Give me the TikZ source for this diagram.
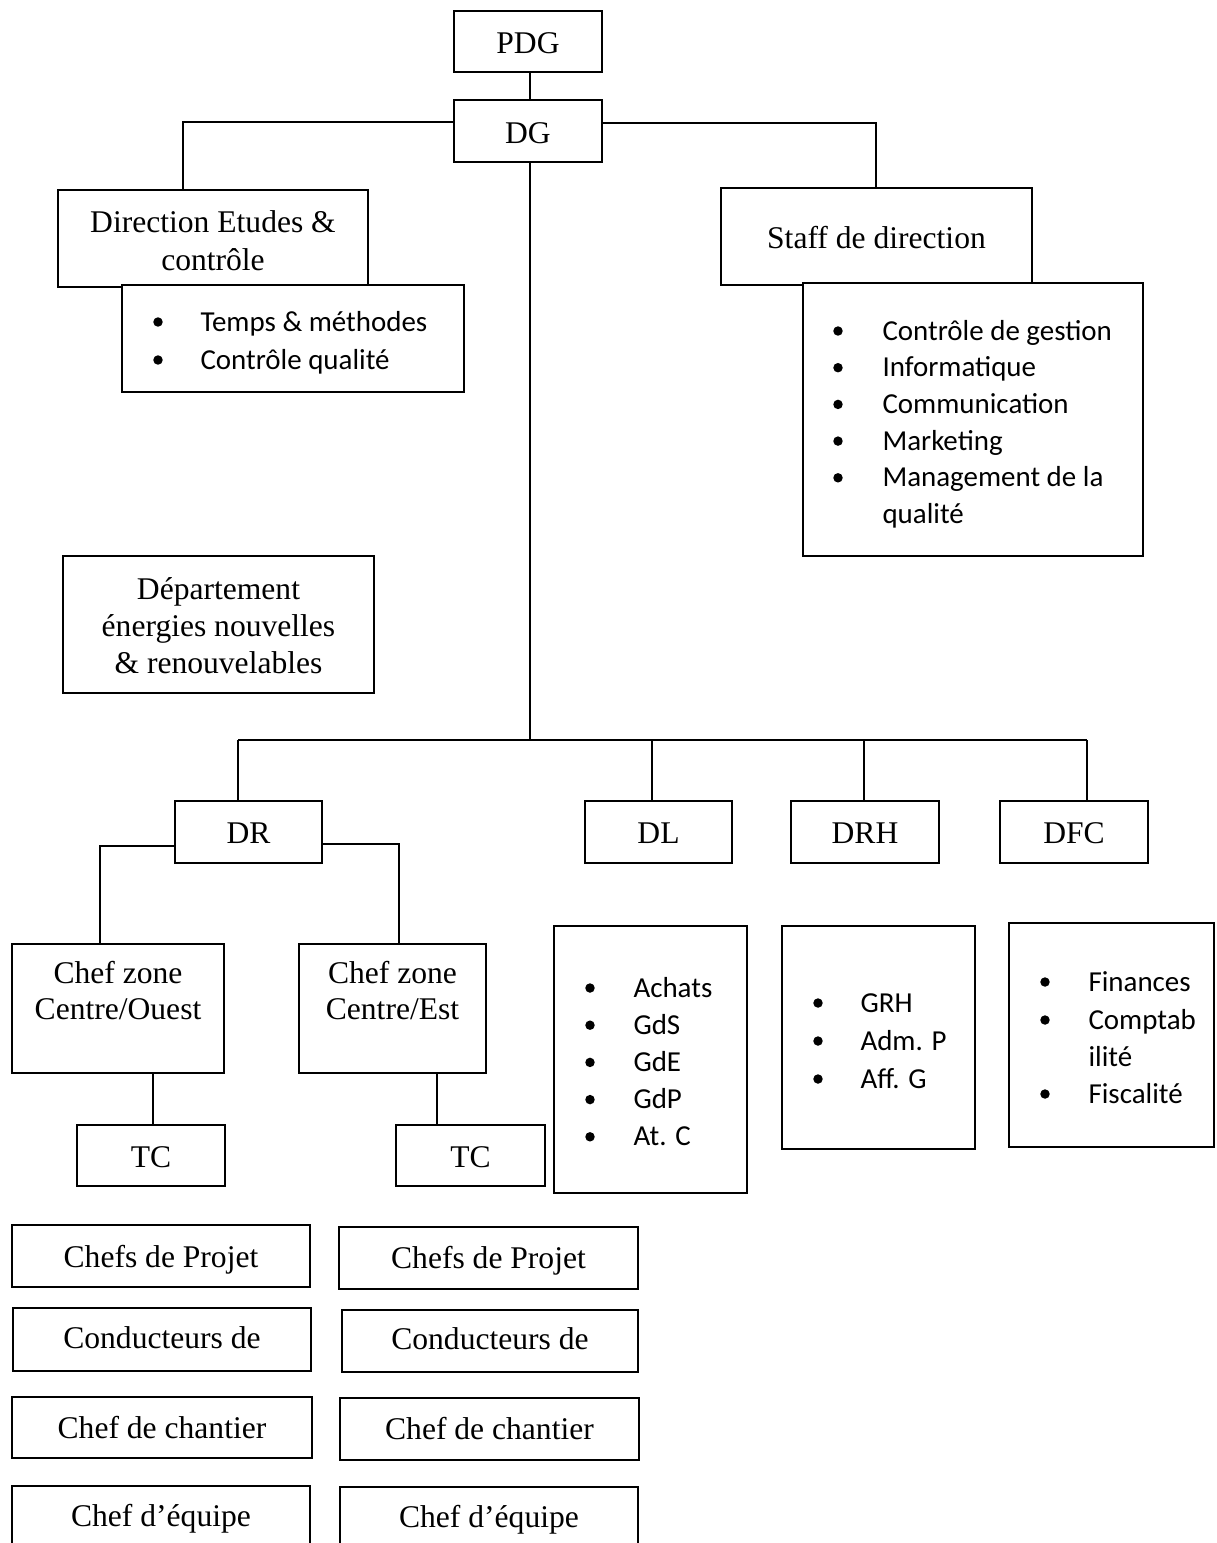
\documentclass[tikz,border=0pt]{standalone}
\usepackage{fontspec}
\setmainfont{Liberation Serif}
\newfontfamily\calfont{Carlito}
\newcommand\bx[5]{\node[box, minimum width={(#4-#2)*0.38pt}, minimum height={(#5-#3)*0.38pt}] (#1) at ({(#2+#4)/2},{(#3+#5)/2}) {};}
\newcommand\ttline[4]{\node[ttl] (#1) at (#2,#3) {#4};}
\newcommand\itline[4]{\node[itm] (#1) at (#2,#3) {#4};}
\newcommand\bul[2]{\fill (#1,#2) circle (1.8pt);}
\begin{document}
\begin{tikzpicture}[x=0.38pt,y=-0.38pt,
  box/.style={draw, line width=0.95pt, fill=white, inner sep=0pt, rectangle},
  conn/.style={line width=0.5pt},
  ttl/.style={font=\fontsize{12}{14}\selectfont, inner sep=0pt, anchor=base},
  itm/.style={font=\calfont\fontsize{11}{14}\selectfont, inner sep=0pt, anchor=base west}]
\useasboundingbox (0,0) rectangle (1217,1543);
\clip (0,0) rectangle (1217,1543);

% ---------- boxes ----------
\bx{PDG}{454}{11}{602}{72}
\bx{DG}{454}{100}{602}{162}
\bx{DirE}{58}{190}{368}{287}
\bx{DirL}{122}{285}{464}{392}
\bx{Staff}{721}{188}{1032}{285}
\bx{StaffL}{803}{283}{1143}{556}
\bx{Dep}{63}{556}{374}{693}
\bx{DR}{175}{801}{322}{863}
\bx{DL}{585}{801}{732}{863}
\bx{DRH}{791}{801}{939}{863}
\bx{DFC}{1000}{801}{1148}{863}
\bx{CZO}{12}{944}{224}{1073}
\bx{CZE}{299}{944}{486}{1073}
\bx{TCO}{77}{1125}{225}{1186}
\bx{TCE}{396}{1125}{545}{1186}
\bx{DLL}{554}{926}{747}{1193}
\bx{DRHL}{782}{926}{975}{1149}
\bx{DFCL}{1009}{923}{1214}{1147}
\bx{CPa}{12}{1225}{310}{1287}
\bx{COa}{13}{1308}{311}{1371}
\bx{CCa}{12}{1397}{312}{1458}
\bx{CEa}{12}{1486}{310}{1570}
\bx{CPb}{339}{1227}{638}{1289}
\bx{COb}{342}{1310}{638}{1372}
\bx{CCb}{340}{1398}{639}{1460}
\bx{CEb}{340}{1487}{638}{1570}

% ---------- connector helper points ----------
\coordinate (kL) at (183,122);
\coordinate (kR) at (876,123);
\coordinate (bar) at (530,740);
\coordinate (d1) at (238,740);
\coordinate (d2) at (652,740);
\coordinate (d3) at (864,740);
\coordinate (d4) at (1087,740);
\coordinate (zL) at (100,846);
\coordinate (zR) at (399,844);
\coordinate (tL) at (153,1100);
\coordinate (tR) at (437,1100);

% ---------- connectors ----------
\draw[conn] (PDG.south -| bar) -- (DG.north -| bar);
\draw[conn] (DG.west |- kL) -| (DirE.north -| kL);
\draw[conn] (DG.east |- kR) -| (Staff.north -| kR);
\draw[conn] (DG.south -| bar) -- (bar);
\draw[conn] (d1) -- (d4);
\draw[conn] (d1) -- (DR.north -| d1);
\draw[conn] (d2) -- (DL.north -| d2);
\draw[conn] (d3) -- (DRH.north -| d3);
\draw[conn] (d4) -- (DFC.north -| d4);
\draw[conn] (DR.west |- zL) -| (CZO.north -| zL);
\draw[conn] (DR.east |- zR) -| (CZE.north -| zR);
\draw[conn] (CZO.south -| tL) -- (TCO.north -| tL);
\draw[conn] (CZE.south -| tR) -- (TCE.north -| tR);

% ---------- titles ----------
\ttline{tPDG}{528}{53.5}{PDG}
\ttline{tDG}{528}{143.5}{DG}
\ttline{tDirE1}{213}{232.5}{Direction Etudes \&}
\ttline{tDirE2}{213}{270}{contrôle}
\ttline{tStaff}{876.5}{248.5}{Staff de direction}
\ttline{tDep1}{218.5}{599}{Département}
\ttline{tDep2}{218.5}{636}{énergies nouvelles}
\ttline{tDep3}{218.5}{673}{\& renouvelables}
\ttline{tDR}{248.5}{843.5}{DR}
\ttline{tDL}{658.5}{843.5}{DL}
\ttline{tDRH}{865}{843.5}{DRH}
\ttline{tDFC}{1074}{843.5}{DFC}
\ttline{tCZO1}{118}{983}{Chef zone}
\ttline{tCZO2}{118}{1019}{Centre/Ouest}
\ttline{tCZE1}{392.5}{983}{Chef zone}
\ttline{tCZE2}{392.5}{1019}{Centre/Est}
\ttline{tTCO}{151}{1167}{TC}
\ttline{tTCE}{470.5}{1167}{TC}
\ttline{tCPa}{161}{1267}{Chefs de Projet}
\ttline{tCOa}{162}{1348}{Conducteurs de}
\ttline{tCCa}{162}{1438}{Chef de chantier}
\ttline{tCEa}{161}{1526}{Chef d’équipe}
\ttline{tCPb}{488.5}{1268}{Chefs de Projet}
\ttline{tCOb}{490}{1349}{Conducteurs de}
\ttline{tCCb}{489.5}{1439}{Chef de chantier}
\ttline{tCEb}{489}{1527}{Chef d’équipe}

% ---------- lists ----------
\bul{158}{322}\itline{iT1}{200}{331}{Temps \& méthodes}
\bul{158}{360}\itline{iT2}{200}{369}{Contrôle qualité}

\bul{838}{331}\itline{iS1}{882}{340}{Contrôle de gestion}
\bul{838}{367.7}\itline{iS2}{882}{376.7}{Informatique}
\bul{838}{404.4}\itline{iS3}{882}{413.4}{Communication}
\bul{838}{441.1}\itline{iS4}{882}{450.1}{Marketing}
\bul{838}{477.8}\itline{iS5}{882}{486.8}{Management de la}
\itline{iS6}{882}{523.5}{qualité}

\bul{590}{988}\itline{iL1}{633}{997}{Achats}
\bul{590}{1025.2}\itline{iL2}{633}{1034.2}{GdS}
\bul{590}{1062.4}\itline{iL3}{633}{1071.4}{GdE}
\bul{590}{1099.6}\itline{iL4}{633}{1108.6}{GdP}
\bul{590}{1136.8}\itline{iL5}{633}{1145.8}{At. C}

\bul{818}{1003}\itline{iH1}{860}{1012}{GRH}
\bul{818}{1041}\itline{iH2}{860}{1050}{Adm. P}
\bul{818}{1079}\itline{iH3}{860}{1088}{Aff. G}

\bul{1045}{982}\itline{iF1}{1088}{991}{Finances}
\bul{1045}{1020}\itline{iF2}{1088}{1029}{Comptab}
\itline{iF3}{1088}{1066}{ilité}
\bul{1045}{1094}\itline{iF4}{1088}{1103}{Fiscalité}
\end{tikzpicture}
\end{document}
